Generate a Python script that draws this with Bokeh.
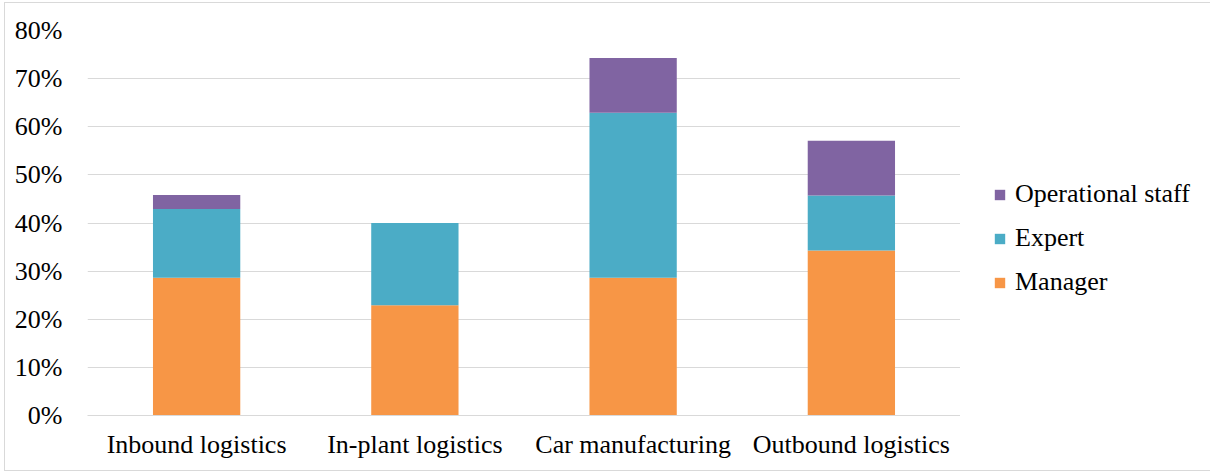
from bokeh.plotting import figure
from bokeh.models import Legend, LegendItem, PrintfTickFormatter, FixedTicker
from bokeh.layouts import row
from bokeh.embed import file_html
from bokeh.resources import INLINE

categories = ["Inbound logistics", "In-plant logistics", "Car manufacturing", "Outbound logistics"]
manager = [28.6, 22.9, 28.6, 34.3]
expert = [14.3, 17.1, 34.3, 11.4]
operational = [2.9, 0.0, 11.4, 11.4]
series = ["Manager", "Expert", "Operational staff"]
colors = ["#F79646", "#4BACC6", "#8064A2"]
y_ticks = [0, 10, 20, 30, 40, 50, 60, 70, 80]

FONT = "Liberation Serif"
FS = "26px"
H = 467

data = {"cat": categories, "Manager": manager, "Expert": expert, "Operational staff": operational}

p = figure(x_range=categories, y_range=(0, 80), width=955, height=H,
           output_backend="svg", toolbar_location=None,
           min_border_left=82, min_border_right=0, min_border_top=27, min_border_bottom=55)

p.vbar_stack(series, x="cat", width=0.4, color=colors, line_color=None, source=data)

p.outline_line_color = None
p.xgrid.grid_line_color = None
p.ygrid.grid_line_color = "#d9d9d9"
p.ygrid.grid_line_width = 1
p.yaxis.ticker = FixedTicker(ticks=y_ticks)
p.yaxis.formatter = PrintfTickFormatter(format="%d%%")
p.yaxis.axis_line_color = None
p.yaxis.major_tick_line_color = None
p.yaxis.minor_tick_line_color = None
p.yaxis.major_label_standoff = 19
p.xaxis.axis_line_color = "#d9d9d9"
p.xaxis.major_tick_line_color = None
p.xaxis.minor_tick_line_color = None
p.xaxis.major_label_standoff = 8
for ax in (p.xaxis, p.yaxis):
    ax.major_label_text_font = FONT
    ax.major_label_text_font_size = FS
    ax.major_label_text_color = "#000000"
p.x_range.range_padding = 0
p.x_range.factor_padding = 0

# legend panel (proxy glyphs placed outside the visible range)
q = figure(x_range=(0, 1), y_range=(0, 1), width=250, height=H,
           output_backend="svg", toolbar_location=None,
           min_border_left=0, min_border_right=0, min_border_top=0, min_border_bottom=0)
q.axis.visible = False
q.grid.visible = False
q.outline_line_color = None
leg_renderers = [q.vbar(x=[5], top=[0.5], width=0.1, fill_color=c, line_color=None) for c in colors]
items = [LegendItem(label=s, renderers=[r]) for s, r in zip(series, leg_renderers)]
items.reverse()
legend = Legend(items=items, location=(33, 118), padding=0, margin=0,
                border_line_color=None, background_fill_alpha=0,
                glyph_width=13, glyph_height=13, label_height=30, spacing=14,
                label_standoff=9, label_text_font=FONT, label_text_font_size=FS,
                label_text_color="#000000")
q.add_layout(legend, "center")

layout = row(p, q, styles={"margin-left": "4px", "margin-top": "2px",
                           "border-left": "1px solid #d9d9d9", "border-top": "1px solid #d9d9d9",
                           "border-bottom": "1px solid #d9d9d9"})

open("out.html", "w").write(file_html(layout, INLINE))
